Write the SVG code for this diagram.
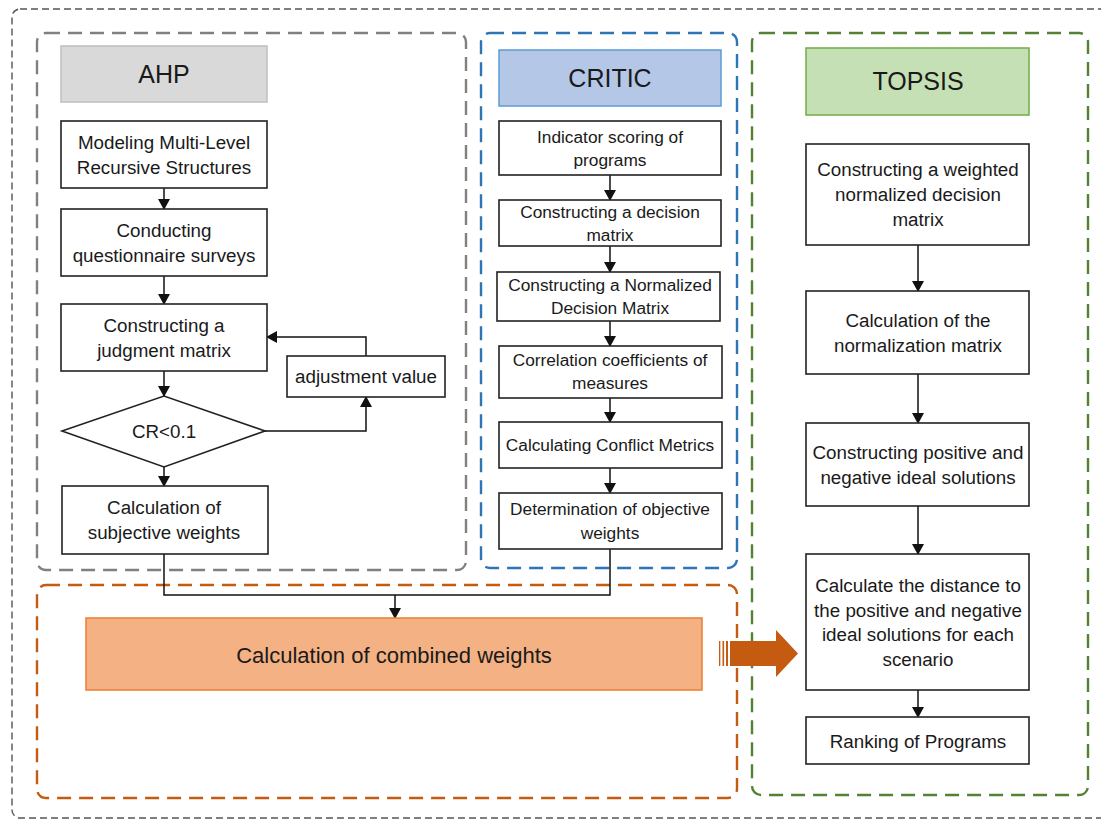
<svg xmlns="http://www.w3.org/2000/svg" width="1101" height="820" viewBox="0 0 1101 820">
<defs>
<marker id="ah" markerWidth="11" markerHeight="12" refX="10" refY="6" orient="auto" markerUnits="userSpaceOnUse">
<path d="M0,0 L11,6 L0,12 z" fill="#111"/>
</marker>
<style>
.t{font-family:"Liberation Sans",Arial,sans-serif;font-size:18.8px;fill:#1a1a1a;text-anchor:middle}
.ts{font-family:"Liberation Sans",Arial,sans-serif;font-size:17.3px;fill:#1a1a1a;text-anchor:middle}
.h{font-family:"Liberation Sans",Arial,sans-serif;font-size:25px;fill:#1a1a1a;text-anchor:middle}
.box{fill:#fff;stroke:#222;stroke-width:1.6}
.ln{fill:none;stroke:#111;stroke-width:1.5}
.cont{fill:none;stroke-width:2.4;stroke-dasharray:14 8}
</style>
</defs>
<rect width="1101" height="820" fill="#fff"/>
<g id="outer">
<rect x="12" y="9" width="1100" height="809" rx="8" fill="none" stroke="#555" stroke-width="1.4" stroke-dasharray="7 4"/>
</g>
<g id="ahp-container"><rect class="cont" x="37" y="33" width="429" height="537" rx="9" stroke="#808080"/></g>
<g id="critic-container"><rect class="cont" x="481" y="33" width="256" height="535" rx="9" stroke="#2e75b6"/></g>
<g id="topsis-container"><rect class="cont" x="752" y="33" width="336" height="762" rx="9" stroke="#548235"/></g>
<g id="combined-container"><rect class="cont" x="37" y="585" width="700" height="213" rx="9" stroke="#c55a11"/></g>

<g id="connectors">
<line class="ln" x1="164" y1="188" x2="164" y2="209" marker-end="url(#ah)"/>
<line class="ln" x1="164" y1="276" x2="164" y2="304" marker-end="url(#ah)"/>
<line class="ln" x1="164" y1="371" x2="164" y2="396" marker-end="url(#ah)"/>
<line class="ln" x1="164" y1="467" x2="164" y2="486" marker-end="url(#ah)"/>
<polyline class="ln" points="265,431 366,431 366,397" marker-end="url(#ah)"/>
<polyline class="ln" points="366,356 366,337 267,337" marker-end="url(#ah)"/>
<polyline class="ln" points="164,554 164,595 610,595 610,549"/>
<line class="ln" x1="395" y1="595" x2="395" y2="618" marker-end="url(#ah)"/>
<line class="ln" x1="610" y1="175" x2="610" y2="200" marker-end="url(#ah)"/>
<line class="ln" x1="610" y1="246" x2="610" y2="272" marker-end="url(#ah)"/>
<line class="ln" x1="610" y1="321" x2="610" y2="346" marker-end="url(#ah)"/>
<line class="ln" x1="610" y1="398" x2="610" y2="422" marker-end="url(#ah)"/>
<line class="ln" x1="610" y1="468" x2="610" y2="493" marker-end="url(#ah)"/>
<line class="ln" x1="918" y1="245" x2="918" y2="291" marker-end="url(#ah)"/>
<line class="ln" x1="918" y1="374" x2="918" y2="423" marker-end="url(#ah)"/>
<line class="ln" x1="918" y1="506" x2="918" y2="554" marker-end="url(#ah)"/>
<line class="ln" x1="918" y1="690" x2="918" y2="717" marker-end="url(#ah)"/>
</g>

<g id="ahp-header"><rect x="61" y="46" width="206" height="56" fill="#d9d9d9" stroke="#bfbfbf" stroke-width="1.5"/><text class="h" x="164" y="83">AHP</text></g>
<g id="ahp-1"><rect class="box" x="61" y="121" width="206" height="67"/><text class="t" x="164" y="149">Modeling Multi-Level</text><text class="t" x="164" y="174">Recursive Structures</text></g>
<g id="ahp-2"><rect class="box" x="61" y="209" width="206" height="67"/><text class="t" x="164" y="237">Conducting</text><text class="t" x="164" y="262">questionnaire surveys</text></g>
<g id="ahp-3"><rect class="box" x="61" y="304" width="206" height="67"/><text class="t" x="164" y="332">Constructing a</text><text class="t" x="164" y="357">judgment matrix</text></g>
<g id="ahp-adjust"><rect class="box" x="287" y="356" width="158" height="41"/><text class="t" x="366" y="383">adjustment value</text></g>
<g id="ahp-cr"><polygon points="62,431 164,396 265,431 164,467" fill="#fff" stroke="#222" stroke-width="1.6"/><text class="t" x="164" y="438">CR&lt;0.1</text></g>
<g id="ahp-4"><rect class="box" x="62" y="486" width="206" height="68"/><text class="t" x="164" y="514">Calculation of</text><text class="t" x="164" y="539">subjective weights</text></g>

<g id="critic-header"><rect x="499" y="50" width="222" height="56" fill="#b4c7e7" stroke="#5b9bd5" stroke-width="1.5"/><text class="h" x="610" y="87">CRITIC</text></g>
<g id="critic-1"><rect class="box" x="499" y="121" width="222" height="54"/><text class="ts" x="610" y="143">Indicator scoring of</text><text class="ts" x="610" y="166">programs</text></g>
<g id="critic-2"><rect class="box" x="499" y="200" width="222" height="46"/><text class="ts" x="610" y="218">Constructing a decision</text><text class="ts" x="610" y="241">matrix</text></g>
<g id="critic-3"><rect class="box" x="497" y="272" width="223" height="49"/><text class="ts" x="610" y="291">Constructing a Normalized</text><text class="ts" x="610" y="314">Decision Matrix</text></g>
<g id="critic-4"><rect class="box" x="499" y="346" width="223" height="52"/><text class="ts" x="610" y="366">Correlation coefficients of</text><text class="ts" x="610" y="389">measures</text></g>
<g id="critic-5"><rect class="box" x="499" y="422" width="223" height="46"/><text class="ts" x="610" y="451">Calculating Conflict Metrics</text></g>
<g id="critic-6"><rect class="box" x="499" y="493" width="223" height="56"/><text class="ts" x="610" y="515">Determination of objective</text><text class="ts" x="610" y="539">weights</text></g>

<g id="topsis-header"><rect x="806" y="48" width="223" height="67" fill="#c5e0b4" stroke="#70ad47" stroke-width="1.5"/><text class="h" x="918" y="90">TOPSIS</text></g>
<g id="topsis-1"><rect class="box" x="806" y="144" width="223" height="101"/><text class="t" x="918" y="176">Constructing a weighted</text><text class="t" x="918" y="201">normalized decision</text><text class="t" x="918" y="226">matrix</text></g>
<g id="topsis-2"><rect class="box" x="806" y="291" width="223" height="83"/><text class="t" x="918" y="327">Calculation of the</text><text class="t" x="918" y="352">normalization matrix</text></g>
<g id="topsis-3"><rect class="box" x="806" y="423" width="223" height="83"/><text class="t" x="918" y="459">Constructing positive and</text><text class="t" x="918" y="484">negative ideal solutions</text></g>
<g id="topsis-4"><rect class="box" x="806" y="554" width="223" height="136"/><text class="t" x="918" y="592">Calculate the distance to</text><text class="t" x="918" y="617">the positive and negative</text><text class="t" x="918" y="641">ideal solutions for each</text><text class="t" x="918" y="666">scenario</text></g>
<g id="topsis-5"><rect class="box" x="806" y="717" width="223" height="47"/><text class="t" x="918" y="748">Ranking of Programs</text></g>

<g id="combined"><rect x="86" y="618" width="616" height="72" fill="#f4b183" stroke="#ed7d31" stroke-width="1.5"/><text x="394" y="663" style="font-family:'Liberation Sans',Arial,sans-serif;font-size:22px;fill:#1a1a1a;text-anchor:middle">Calculation of combined weights</text></g>

<g id="big-arrow">
<rect x="719" y="641" width="1.3" height="25" fill="#c55a11"/>
<rect x="722.5" y="641" width="1.6" height="25" fill="#c55a11"/>
<rect x="726" y="641" width="2" height="25" fill="#c55a11"/>
<polygon points="730,641 776,641 776,630 798,653.5 776,677 776,666 730,666" fill="#c55a11"/>
</g>
</svg>
